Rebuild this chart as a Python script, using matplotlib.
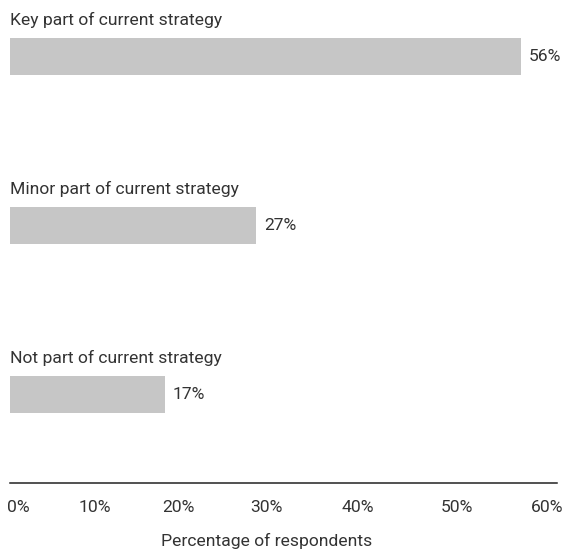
import matplotlib
matplotlib.use("Agg")
import matplotlib.pyplot as plt

categories = ["Key part of current strategy", "Minor part of current strategy", "Not part of current strategy"]
values = [56, 27, 17]
tick_labels = ["0%", "10%", "20%", "30%", "40%", "50%", "60%"]
# label positions as shown in the reference layout (data units)
tick_positions = [0.95, 9.3, 18.5, 28.1, 38.1, 49.0, 58.9]
xlabel = "Percentage of respondents"

plt.rcParams['font.family'] = ['Roboto', 'DejaVu Sans']
FS = 12.6
W, H = 565, 549
fig = plt.figure(figsize=(W/100, H/100), dpi=100)
ax = fig.add_axes([10/W, (H-483)/H, 547/W, 483/H])

text_color = "#333333"
bar_h = 37/169
ys = list(range(len(categories)))
ax.barh(ys, values, height=bar_h, color="#c6c6c6", left=0)
ax.set_xlim(0, 60)
ax.set_ylim(2 + 88.5/169, -56.5/169)

for y, cat, v in zip(ys, categories, values):
    ax.annotate(cat, xy=(0, y - bar_h/2), xytext=(0, 13*0.72), textcoords='offset points',
                ha='left', va='baseline', fontsize=FS, color=text_color)
    ax.annotate(f"{v}%", xy=(v, y), xytext=(8*0.72, 0), textcoords='offset points',
                ha='left', va='center', fontsize=FS, color=text_color)

ax.set_xticks(tick_positions)
ax.set_xticklabels(tick_labels, fontsize=FS, color=text_color)
ax.tick_params(axis='x', length=0, pad=12)
ax.set_yticks([])
for s in ['top', 'right', 'left']:
    ax.spines[s].set_visible(False)
ax.spines['bottom'].set_color('#222222')
ax.spines['bottom'].set_linewidth(1.1)
ax.patch.set_alpha(0)

fig.text(267/W, (H-541)/H, xlabel, ha='center', va='center', fontsize=FS, color=text_color)

fig.savefig("out.png", dpi=100)
